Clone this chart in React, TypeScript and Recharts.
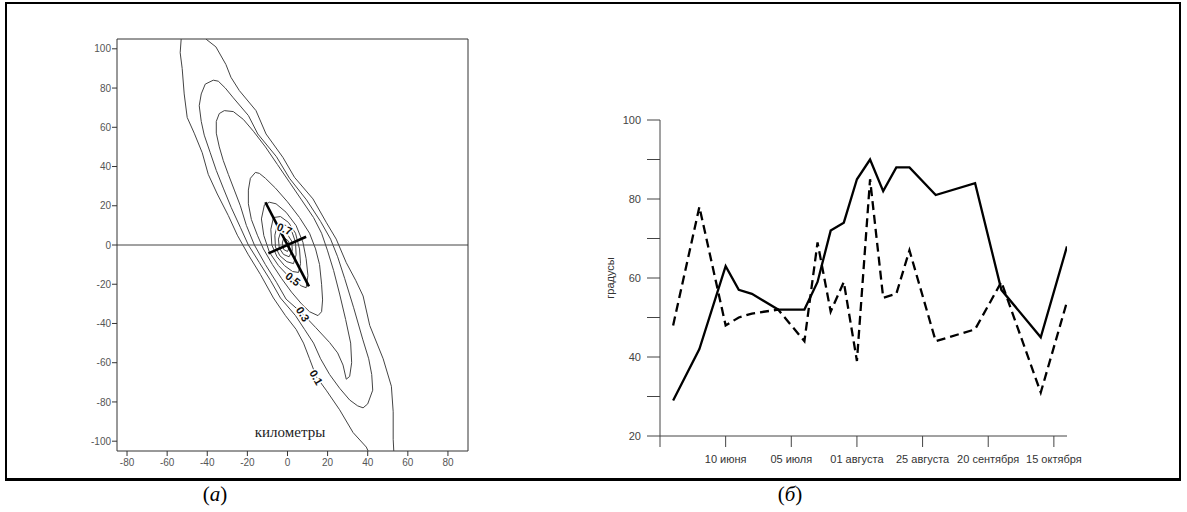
import { ScatterChart, Scatter, LineChart, Line, XAxis, YAxis, ReferenceLine, ReferenceDot } from 'recharts';

// panel (а): contour plot, kilometres
const kmXTicks = [-80, -60, -40, -20, 0, 20, 40, 60, 80];
const kmYTicks = [-100, -80, -60, -40, -20, 0, 20, 40, 60, 80, 100];

// outermost level (0.1) is cut by the frame, so two open branches
const level01Left: [number, number][] = [
  [-53, 105], [-53.5, 98], [-52.5, 90], [-51.5, 77], [-50, 65], [-46.5, 57], [-42.5, 47], [-39.5, 36],
  [-35, 26], [-29.5, 15], [-25, 5], [-19.5, -5], [-13.5, -15], [-7, -27], [-1, -36], [4.3, -43],
  [8, -50], [11, -58], [14.3, -67], [19.3, -74], [26, -84], [32.7, -95.6], [39.3, -103], [40.2, -105],
];
const level01Right: [number, number][] = [
  [-40.7, 105], [-35.7, 101], [-30.7, 92], [-28.2, 85.5], [-24, 78.7], [-15.7, 68.5], [-10.7, 56.6],
  [-2.3, 44.7], [3.5, 34.5], [12.7, 23.5], [19.3, 11.6], [24.3, 3], [29.3, -9], [34, -18], [37.7, -26],
  [41, -41], [47.7, -58], [51.8, -72], [52.7, -85], [52.7, -99], [53, -105],
];
const level02: [number, number][] = [
  [-37, 84], [-41, 82], [-43, 77], [-44, 71], [-43, 63], [-41.5, 56], [-38.5, 47], [-35.5, 38], [-32, 29],
  [-28, 19], [-23.5, 9], [-19.5, 0], [-14, -9], [-8.5, -18], [-3.5, -27], [4, -36], [8.5, -43], [13, -50],
  [16.5, -58], [21, -66], [26, -73], [31, -79], [35, -82], [37.7, -83], [40, -81], [42.5, -74], [42, -66],
  [40.5, -58], [37.5, -48], [33, -32], [28.5, -17], [25, -6], [21.5, 3], [16.5, 12], [9.5, 23], [1, 34],
  [-5.5, 45], [-14.8, 56.6], [-19.5, 66], [-27, 75], [-31, 80], [-34.5, 83.5], [-37, 84],
];
const level03: [number, number][] = [
  [-31.5, 68.5], [-34, 67], [-35.5, 63], [-35.5, 57], [-34, 50], [-32, 43], [-29.5, 36], [-26.5, 28],
  [-23.5, 20], [-20.5, 10], [-16.5, 0], [-11, -10], [-5.5, -19], [-0.7, -27.6], [7.7, -35.2], [14, -42],
  [21, -49.7], [25, -55], [27.7, -61.2], [29.3, -68.4], [31, -67], [32, -60], [31.5, -50], [29, -38],
  [26, -25], [23, -13], [20, -3], [17, 6], [13, 14], [7, 23], [1, 32], [-5, 41], [-11, 50], [-17, 58],
  [-22, 64], [-27, 68], [-31.5, 68.5],
];
const level04: [number, number][] = [
  [-16, 37], [-18.5, 34], [-19.5, 28], [-19.5, 21], [-18, 13], [-15, 5], [-12, -2], [-7.5, -10], [-3, -17],
  [2, -24], [7, -30], [11, -34], [15.2, -36], [17, -34], [17.5, -28], [17, -20], [16, -10], [14, -2],
  [11, 6], [6, 14], [0, 22], [-6, 29], [-11, 34], [-14, 36.5], [-16, 37],
];
const level05: [number, number][] = [
  [-9, 21.8], [-11.5, 20.5], [-13, 13.3], [-11.8, 4.8], [-9, -3.7], [-4.5, -10.5], [0.2, -15.6],
  [2.7, -17.3], [6.8, -20.8], [9.3, -21.8], [10.2, -15.6], [9.3, -7], [7.7, 1.4], [4.3, 9.9],
  [-0.7, 16.7], [-5.7, 21], [-9, 21.8],
];
const level06: [number, number][] = [
  [-7, 14], [-8.3, 8], [-7.8, 0], [-5.2, -6], [-1.5, -10.5], [2.5, -13.5], [5.5, -14], [6.5, -9.5],
  [6, -2], [4, 6], [0.5, 11.5], [-3.5, 14.5], [-7, 14],
];
const level07: [number, number][] = [
  [-5, 10.5], [-6.3, 5], [-6, -1], [-3.8, -5.5], [-0.3, -8.5], [3, -9.5], [4.3, -5], [4, 1.5],
  [2.3, 6.5], [-0.8, 10], [-5, 10.5],
];
const level08: [number, number][] = [
  [-3.3, 6.8], [-4.5, 3], [-4.1, -1.5], [-2, -4.8], [0.8, -6], [2.4, -2.8], [2.1, 2], [0, 5.3], [-3.3, 6.8],
];
const level09: [number, number][] = [
  [-1.8, 3.8], [-2.6, 1], [-1.9, -2.3], [0, -3.3], [1, -1], [0.5, 2], [-1.8, 3.8],
];

// ellipse axes (the black cross)
const majorAxis: [number, number][] = [[-11, 21.8], [10.7, -21.1]];
const minorAxis: [number, number][] = [[-9.5, -4.3], [9.3, 4.2]];

const levelLabels = ['0.1', '0.3', '0.5', '0.7'];
const labelX = [14.3, 7.7, 2.7, -1.5];
const labelY = [-67.5, -35.2, -17.3, 8.2];
const labelAngles = [60, 58, 38, 22];

// panel (б): two series, sampled every 5th day (step index)
const steps = [1, 3, 5, 6, 7, 9, 11, 12, 13, 14, 15, 16, 17, 18, 19, 21, 24, 26, 29, 31];
const solidSeries = [29, 42, 63, 57, 56, 52, 52, 59, 72, 74, 85, 90, 82, 88, 88, 81, 84, 57, 45, 68];
const dashedSeries = [48, 78, 48, 50, 51, 52, 44, 69, 51.5, 59, 39, 85, 55, 56, 67, 44, 47, 59, 31, 54];
const stepTicks = [0, 5, 10, 15, 20, 25, 30];
const dateLabels = ['', '10 июня', '05 июля', '01 августа', '25 августа', '20 сентября', '15 октября'];
const degTicks = [20, 30, 40, 50, 60, 70, 80, 90, 100];

const SANS = '"Liberation Sans", Arial, sans-serif';
const SERIF = '"Liberation Serif", "Times New Roman", serif';

const toPts = (arr: [number, number][]) => arr.map(([x, y]) => ({ x, y }));

const contourLines = [level01Left, level01Right, level02, level03, level04, level05, level06, level07, level08, level09];

function ContourChart() {
  const axisTick = { fontSize: 10, fill: '#555', fontFamily: SANS };
  return (
    <ScatterChart width={500} height={490} margin={{ top: 34, right: 27, bottom: 9, left: 77 }}>
      <XAxis xAxisId="b" type="number" dataKey="x" domain={[-85, 90]} ticks={kmXTicks} allowDataOverflow
        height={30} tickSize={5} tickMargin={3} stroke="#333" tick={axisTick} interval={0} />
      <XAxis xAxisId="t" orientation="top" type="number" dataKey="x" domain={[-85, 90]} ticks={kmXTicks}
        allowDataOverflow height={5} tickSize={5} stroke="#333" tick={false} interval={0} />
      <YAxis yAxisId="l" type="number" dataKey="y" domain={[-105, 105]} ticks={kmYTicks} allowDataOverflow
        width={40} tickSize={5} tickMargin={1} stroke="#333" tick={axisTick} interval={0} />
      <YAxis yAxisId="r" orientation="right" type="number" dataKey="y" domain={[-105, 105]} ticks={kmYTicks}
        allowDataOverflow width={5} tickSize={5} stroke="#333" tick={false} interval={0} />
      <ReferenceLine xAxisId="b" yAxisId="l" y={0} stroke="#444" strokeWidth={1} />
      {contourLines.map((c, i) => (
        <Scatter key={`lvl-${i}`} xAxisId="b" yAxisId="l" data={toPts(c)} lineType="joint"
          line={{ stroke: '#444', strokeWidth: 1 }} shape={() => <g />} isAnimationActive={false} />
      ))}
      {[majorAxis, minorAxis].map((c, i) => (
        <Scatter key={`ax-${i}`} xAxisId="b" yAxisId="l" data={toPts(c)} lineType="joint"
          line={{ stroke: '#000', strokeWidth: 2.6 }} shape={() => <g />} isAnimationActive={false} />
      ))}
      {levelLabels.map((t, i) => (
        <ReferenceDot key={t} xAxisId="b" yAxisId="l" x={labelX[i]} y={labelY[i]} r={0}
          shape={(p: any) => (
            <text x={p.cx} y={p.cy} textAnchor="middle" dominantBaseline="central"
              transform={`rotate(${labelAngles[i]} ${p.cx} ${p.cy})`}
              style={{ fontSize: 11, fontWeight: 'bold', fontFamily: SANS, fill: '#111', stroke: '#fff',
                strokeWidth: 3, paintOrder: 'stroke' }}>
              {t}
            </text>
          )} />
      ))}
    </ScatterChart>
  );
}

function SeasonChart() {
  const rows = steps.map((s, i) => ({ step: s, solid: solidSeries[i], dashed: dashedSeries[i] }));
  return (
    <LineChart width={540} height={380} data={rows} margin={{ top: 20, right: 33, bottom: 14, left: 40 }}>
      <XAxis dataKey="step" type="number" domain={[0, 31]} ticks={stepTicks} allowDataOverflow interval={0}
        tickFormatter={(v: number) => dateLabels[stepTicks.indexOf(v)] ?? ''}
        height={30} tickSize={11} tickMargin={8} stroke="#444"
        tick={{ fontSize: 11, fill: '#333', fontFamily: SANS }} />
      <YAxis type="number" domain={[20, 100]} ticks={degTicks} allowDataOverflow interval={0}
        tickFormatter={(v: number) => (v % 20 === 0 ? String(v) : '')}
        width={60} tickSize={13} tickMargin={6} stroke="#444"
        tick={{ fontSize: 11, fill: '#444', fontFamily: SANS }} />
      <Line type="linear" dataKey="solid" stroke="#000" strokeWidth={2.3} dot={false} isAnimationActive={false} />
      <Line type="linear" dataKey="dashed" stroke="#000" strokeWidth={2.3} strokeDasharray="9 5" dot={false}
        isAnimationActive={false} />
    </LineChart>
  );
}

export default function App() {
  return (
    <div style={{ position: 'absolute', left: 0, top: 0, width: 1187, height: 512, background: '#fff' }}>
      <div style={{ position: 'absolute', left: 5, top: 2, width: 1176, height: 479, border: '2px solid #000',
        borderBottomWidth: 3, boxSizing: 'border-box' }} />
      <div style={{ position: 'absolute', left: 0, top: 0 }}>
        <ContourChart />
      </div>
      <div style={{ position: 'absolute', left: 240, top: 424, width: 100, textAlign: 'center',
        fontFamily: SERIF, fontSize: 15, color: '#222' }}>
        километры
      </div>
      <div style={{ position: 'absolute', left: 560, top: 100 }}>
        <SeasonChart />
      </div>
      <div style={{ position: 'absolute', left: 580, top: 272, width: 60, textAlign: 'center',
        transform: 'rotate(-90deg)', fontFamily: SANS, fontSize: 11, color: '#333' }}>
        градусы
      </div>
      <div style={{ position: 'absolute', left: 175, top: 482, width: 80, textAlign: 'center',
        fontFamily: SERIF, fontSize: 21 }}>
        (<i>а</i>)
      </div>
      <div style={{ position: 'absolute', left: 750, top: 482, width: 80, textAlign: 'center',
        fontFamily: SERIF, fontSize: 21 }}>
        (<i>б</i>)
      </div>
    </div>
  );
}
